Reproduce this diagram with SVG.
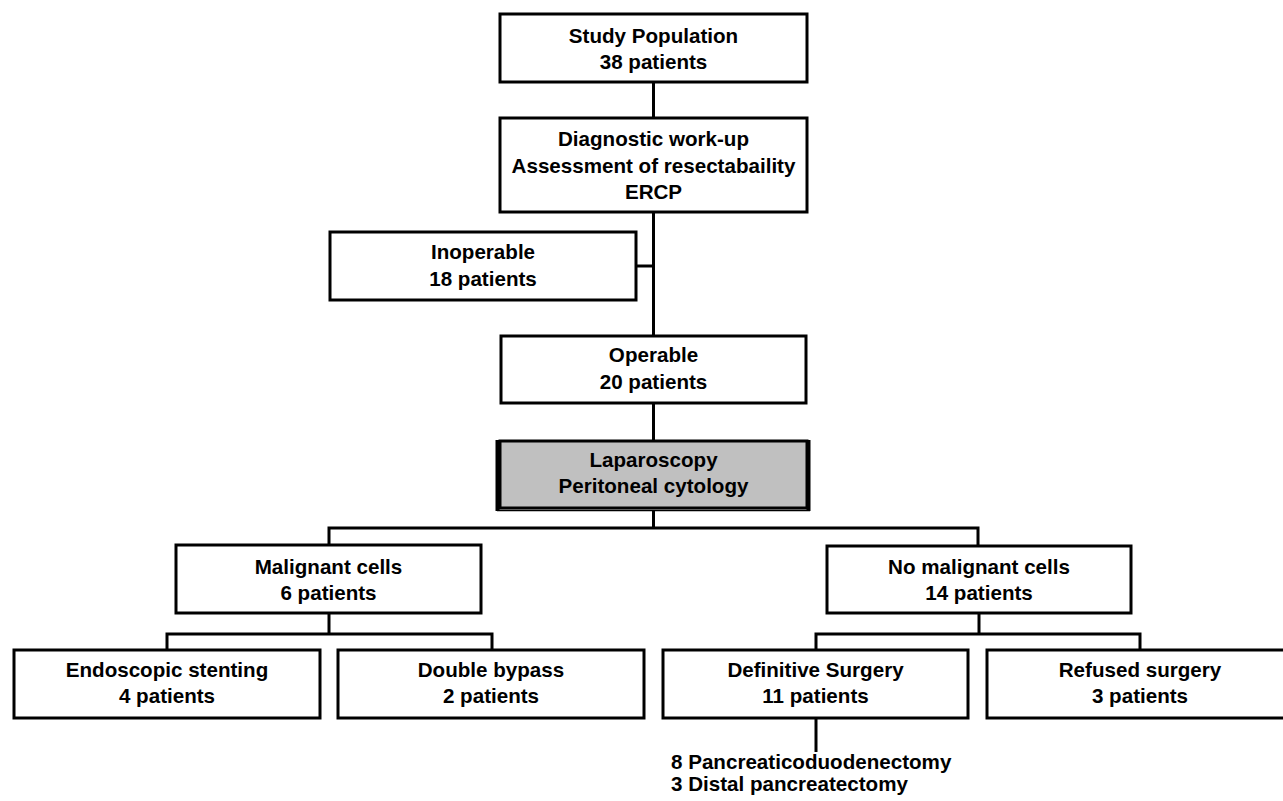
<svg xmlns="http://www.w3.org/2000/svg" width="1283" height="801" viewBox="0 0 1283 801">
<style>
.box{fill:#fff;stroke:#000;stroke-width:3}
.gray{fill:#c0c0c0;stroke:#000;stroke-width:3}
.t{font-family:"Liberation Sans",Arial,sans-serif;font-weight:bold;font-size:20.6px;fill:#000;text-anchor:middle}
.ts{font-family:"Liberation Sans",Arial,sans-serif;font-weight:bold;font-size:20.6px;fill:#000;text-anchor:start}
.c{fill:none;stroke:#000;stroke-width:3}
</style>
<rect width="1283" height="801" fill="#fff"/>
<g id="connectors">
<path class="c" d="M653.5,82 V118"/>
<path class="c" d="M653.5,212 V336"/>
<path class="c" d="M636,266 H653.5"/>
<path class="c" d="M653.5,403 V440"/>
<path class="c" d="M653.5,510 V528"/>
<path class="c" d="M329,545 V528 H978 V546"/>
<path class="c" d="M329,613 V634"/>
<path class="c" d="M167,650 V634 H492 V650"/>
<path class="c" d="M979,613 V634"/>
<path class="c" d="M816,650 V634 H1140 V650"/>
<path class="c" d="M816,718 V752"/>
</g>
<g id="study">
<rect class="box" x="500" y="14" width="307" height="68"/>
<text class="t" x="653.5" y="43">Study Population</text>
<text class="t" x="653.5" y="69">38 patients</text>
</g>
<g id="diagnostic">
<rect class="box" x="500" y="118" width="307" height="94"/>
<text class="t" x="653.5" y="146">Diagnostic work-up</text>
<text class="t" x="653.5" y="172.5">Assessment of resectabaility</text>
<text class="t" x="653.5" y="199">ERCP</text>
</g>
<g id="inoperable">
<rect class="box" x="330" y="232" width="306" height="68"/>
<text class="t" x="483" y="259">Inoperable</text>
<text class="t" x="483" y="286">18 patients</text>
</g>
<g id="operable">
<rect class="box" x="501" y="336" width="305" height="67"/>
<text class="t" x="653.5" y="362">Operable</text>
<text class="t" x="653.5" y="389">20 patients</text>
</g>
<g id="laparoscopy">
<rect class="gray" x="500" y="441" width="307" height="67"/>
<path d="M497.5,440 V511 M808.5,440 V511" stroke="#000" stroke-width="4"/>
<path d="M497,510.5 H810" stroke="#000" stroke-width="1.5"/>
<text class="t" x="653.5" y="467">Laparoscopy</text>
<text class="t" x="653.5" y="493">Peritoneal cytology</text>
</g>
<g id="malignant">
<rect class="box" x="176" y="545" width="305" height="68"/>
<text class="t" x="328.5" y="574">Malignant cells</text>
<text class="t" x="328.5" y="600">6 patients</text>
</g>
<g id="nomalignant">
<rect class="box" x="827" y="546" width="304" height="67"/>
<text class="t" x="979" y="574">No malignant cells</text>
<text class="t" x="979" y="600">14 patients</text>
</g>
<g id="endoscopic">
<rect class="box" x="14" y="650" width="306" height="68"/>
<text class="t" x="167" y="677">Endoscopic stenting</text>
<text class="t" x="167" y="703">4 patients</text>
</g>
<g id="bypass">
<rect class="box" x="338" y="650" width="306" height="68"/>
<text class="t" x="491" y="677">Double bypass</text>
<text class="t" x="491" y="703">2 patients</text>
</g>
<g id="definitive">
<rect class="box" x="663" y="650" width="305" height="68"/>
<text class="t" x="815.5" y="677">Definitive Surgery</text>
<text class="t" x="815.5" y="703">11 patients</text>
</g>
<g id="refused">
<rect class="box" x="987" y="650" width="306" height="68"/>
<text class="t" x="1140" y="677">Refused surgery</text>
<text class="t" x="1140" y="703">3 patients</text>
</g>
<g id="procedures">
<text class="ts" x="671" y="769">8 Pancreaticoduodenectomy</text>
<text class="ts" x="671" y="791">3 Distal pancreatectomy</text>
</g>
</svg>
